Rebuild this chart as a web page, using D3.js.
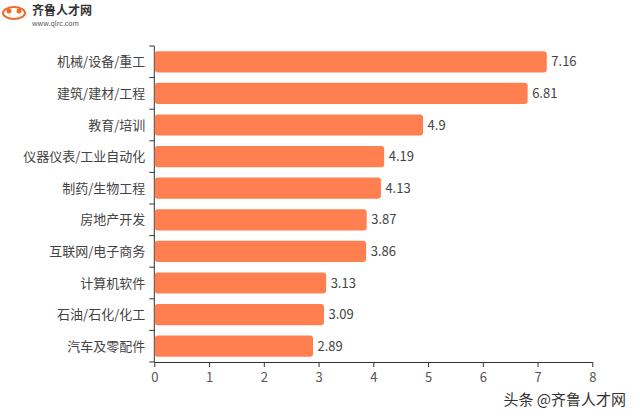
<!DOCTYPE html><html><head><meta charset="utf-8"><script src="https://cdn.jsdelivr.net/npm/d3@7"></script>
<style>body{margin:0;background:#fff}text{font-family:"Noto Sans CJK SC","Microsoft YaHei",sans-serif}</style></head><body><svg id="c" width="640" height="419"></svg><script>
const categories=["机械/设备/重工","建筑/建材/工程","教育/培训","仪器仪表/工业自动化","制药/生物工程","房地产开发","互联网/电子商务","计算机软件","石油/石化/化工","汽车及零配件"];
const values=[7.16,6.81,4.9,4.19,4.13,3.87,3.86,3.13,3.09,2.89];
const xTicks=[0,1,2,3,4,5,6,7,8];
const svg=d3.select("#c");
const L=154.3,R=592.3,T=46,B=362;
const x=d3.scaleLinear().domain([0,8]).range([L,R]);
const y=d3.scaleBand().domain(categories).range([T,B]).paddingInner(0.33).paddingOuter(0.165);
const ax=svg.append("g").attr("transform",`translate(0,${B})`).call(d3.axisBottom(x).tickValues(xTicks).tickSize(5).tickSizeOuter(0));
ax.selectAll("text").attr("font-size",13).attr("fill","#555").attr("dy","0.9em");
ax.selectAll("line,path").attr("stroke","#333");
const band=d3.scaleLinear().domain([0,10]).range([T,B]);
const ay=svg.append("g").attr("transform",`translate(${L},0)`);
ay.append("line").attr("y1",T).attr("y2",B).attr("stroke","#333");
ay.selectAll("line.t").data(d3.range(11)).join("line").attr("x1",-5).attr("x2",0).attr("y1",d=>band(d)).attr("y2",d=>band(d)).attr("stroke","#333");
ay.selectAll("text").data(categories).join("text").attr("x",-9).attr("y",d=>y(d)+y.bandwidth()/2).attr("dy","0.35em").attr("text-anchor","end").attr("font-size",13).attr("fill","#444").text(d=>d);
svg.selectAll("rect.b").data(values).join("rect").attr("x",x(0)+0.5).attr("y",(d,i)=>y(categories[i])).attr("width",d=>x(d)-x(0)).attr("height",y.bandwidth()).attr("rx",3).attr("fill","#FF7F50");
svg.selectAll("text.v").data(values).join("text").attr("x",d=>x(d)+5).attr("y",(d,i)=>y(categories[i])+y.bandwidth()/2).attr("dy","0.35em").attr("font-size",13).attr("fill","#444").text(d=>d);
const g=svg.append("g");
g.append("ellipse").attr("cx",14).attr("cy",13).attr("rx",11).attr("ry",6).attr("fill","none").attr("stroke","#f06a2a").attr("stroke-width",2);
g.append("circle").attr("cx",9).attr("cy",11).attr("r",2.5).attr("fill","#f06a2a");
g.append("circle").attr("cx",19).attr("cy",11).attr("r",2.5).attr("fill","#f06a2a");
g.append("text").attr("x",32).attr("y",15).attr("font-size",12).attr("font-weight","bold").attr("fill","#333").text("齐鲁人才网");
g.append("text").attr("x",32).attr("y",26).attr("font-size",7).attr("fill","#555").text("www.qlrc.com");
svg.append("text").attr("x",626).attr("y",405).attr("text-anchor","end").attr("font-size",15).attr("fill","#333").text("头条 @齐鲁人才网");
</script></body></html>
